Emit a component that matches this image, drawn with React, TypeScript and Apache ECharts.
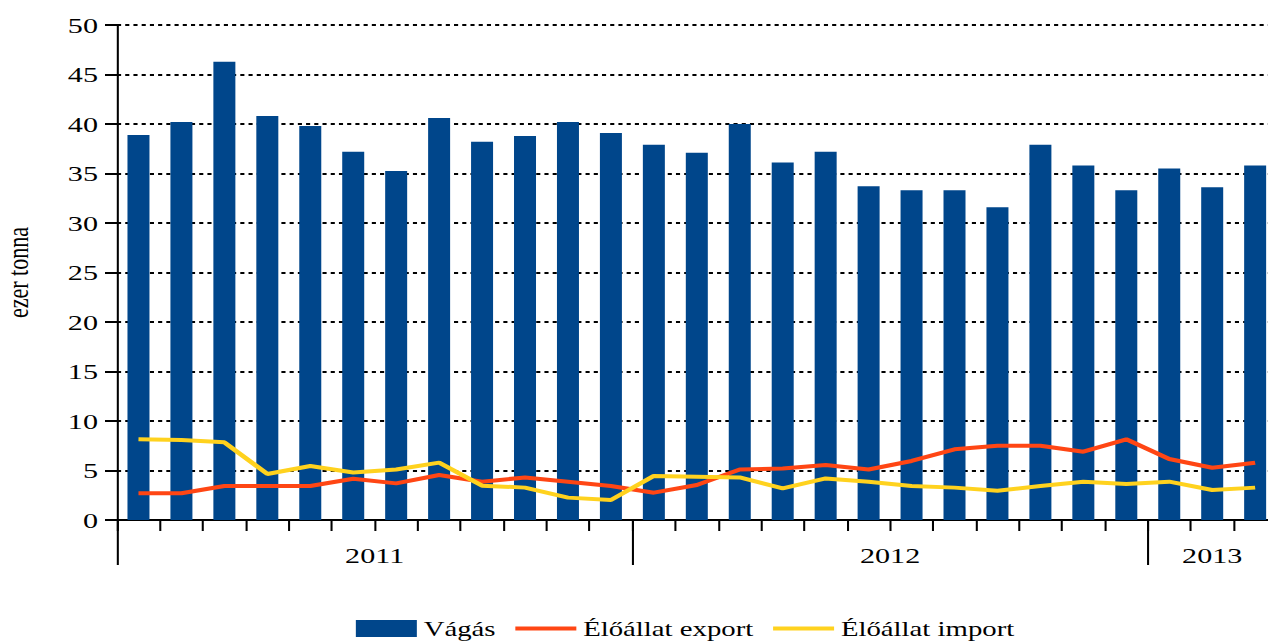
import React, { useEffect, useRef } from "react";
import * as echarts from "echarts";

const CATEGORIES = [
  "2011. jan.", "2011. febr.", "2011. márc.", "2011. ápr.", "2011. máj.", "2011. jún.",
  "2011. júl.", "2011. aug.", "2011. szept.", "2011. okt.", "2011. nov.", "2011. dec.",
  "2012. jan.", "2012. febr.", "2012. márc.", "2012. ápr.", "2012. máj.", "2012. jún.",
  "2012. júl.", "2012. aug.", "2012. szept.", "2012. okt.", "2012. nov.", "2012. dec.",
  "2013. jan.", "2013. febr.", "2013. márc.",
];

const VAGAS = [
  38.9, 40.2, 46.3, 40.8, 39.8, 37.2, 35.25, 40.6, 38.2, 38.8, 40.2, 39.1,
  37.9, 37.1, 40.0, 36.1, 37.2, 33.7, 33.3, 33.3, 31.6, 37.9, 35.8, 33.3,
  35.5, 33.6, 35.8,
];

const EXPORT = [
  2.7, 2.7, 3.43, 3.43, 3.43, 4.17, 3.7, 4.55, 3.87, 4.3, 3.87, 3.43,
  2.76, 3.53, 5.1, 5.2, 5.55, 5.1, 5.96, 7.14, 7.5, 7.5, 6.9, 8.15,
  6.16, 5.28, 5.79,
];

const IMPORT = [
  8.15, 8.08, 7.85, 4.65, 5.45, 4.8, 5.1, 5.8, 3.47, 3.27, 2.26, 2.02,
  4.45, 4.38, 4.3, 3.2, 4.2, 3.87, 3.43, 3.27, 2.96, 3.43, 3.87, 3.64,
  3.87, 3.03, 3.27,
];

const YEAR_LABELS = ["2011", "2012", "2013"];
const YEAR_LABEL_POS = [6, 18, 25.5];
const YEAR_BOUNDS = [0, 12, 24, 27];

const SERIES_NAMES = ["Vágás", "Élőállat export", "Élőállat import"];

const S = 1.37;
const W = 1268 / S;
const FONT = "'Liberation Serif', 'Times New Roman', serif";
const HIDDEN_SYMBOL = { color: "rgba(0,0,0,0)", borderWidth: 0, opacity: 0 };

export default function App() {
  const ref = useRef<HTMLDivElement>(null);

  useEffect(() => {
    if (!ref.current) return;
    const chart = echarts.init(ref.current, undefined, { renderer: "svg" });
    chart.setOption({
      animation: false,
      backgroundColor: "#fff",
      textStyle: { fontFamily: FONT },
      grid: {
        left: 117 / S,
        right: -8 / S,
        top: 25,
        bottom: 123,
        containLabel: false,
        outerBoundsMode: "none",
      },
      legend: {
        left: 349 / S,
        top: 613,
        itemWidth: 61 / S,
        itemHeight: 17,
        itemGap: 17 / S,
        textStyle: { fontSize: 21, fontFamily: FONT, color: "#000" },
        data: [
          { name: SERIES_NAMES[0], icon: "rect" },
          { name: SERIES_NAMES[1], itemStyle: HIDDEN_SYMBOL, lineStyle: { width: 4 } },
          { name: SERIES_NAMES[2], itemStyle: HIDDEN_SYMBOL, lineStyle: { width: 4 } },
        ],
      },
      xAxis: [
        {
          type: "category",
          data: CATEGORIES,
          boundaryGap: true,
          axisLine: { show: true, lineStyle: { color: "#000", width: 2 } },
          axisTick: { show: true, interval: 0, length: 11, lineStyle: { color: "#000", width: 1.5 } },
          axisLabel: { show: false },
          splitLine: { show: false },
        },
        {
          type: "value",
          min: 0,
          max: 27,
          position: "bottom",
          axisLine: { show: false },
          splitLine: { show: false },
          axisTick: {
            show: true,
            length: 45,
            customValues: YEAR_BOUNDS,
            lineStyle: { color: "#000", width: 1.5 },
          },
          axisLabel: {
            show: true,
            customValues: YEAR_LABEL_POS,
            margin: 24,
            fontSize: 22,
            fontFamily: FONT,
            color: "#000",
            formatter: (v: number) => {
              const i = YEAR_LABEL_POS.indexOf(v);
              return i >= 0 ? YEAR_LABELS[i] : "";
            },
          },
        },
      ],
      yAxis: {
        type: "value",
        min: 0,
        max: 50,
        interval: 5,
        name: "ezer tonna",
        nameLocation: "middle",
        nameGap: 84 / S,
        nameRotate: 90,
        nameTextStyle: { fontSize: 22, fontFamily: FONT, color: "#000" },
        axisLine: { show: true, lineStyle: { color: "#000", width: 1.5 } },
        axisTick: { show: true, length: 12 / S, lineStyle: { color: "#000", width: 2 } },
        axisLabel: { fontSize: 22, fontFamily: FONT, color: "#000", margin: 19 / S },
        splitLine: { show: true, lineStyle: { color: "#000", width: 2, type: [3, 3] } },
      },
      series: [
        {
          name: SERIES_NAMES[0],
          type: "bar",
          data: VAGAS,
          barWidth: 22 / S,
          itemStyle: { color: "#00468B" },
        },
        {
          name: SERIES_NAMES[1],
          type: "line",
          data: EXPORT,
          symbol: "none",
          lineStyle: { color: "#FF4614", width: 4 },
          itemStyle: { color: "#FF4614" },
        },
        {
          name: SERIES_NAMES[2],
          type: "line",
          data: IMPORT,
          symbol: "none",
          lineStyle: { color: "#FFD21E", width: 4 },
          itemStyle: { color: "#FFD21E" },
        },
      ],
    });
    return () => chart.dispose();
  }, []);

  return (
    <div
      ref={ref}
      style={{
        position: "absolute",
        left: 0,
        top: 0,
        width: W,
        height: 643,
        transform: `scaleX(${S})`,
        transformOrigin: "0 0",
      }}
    />
  );
}
